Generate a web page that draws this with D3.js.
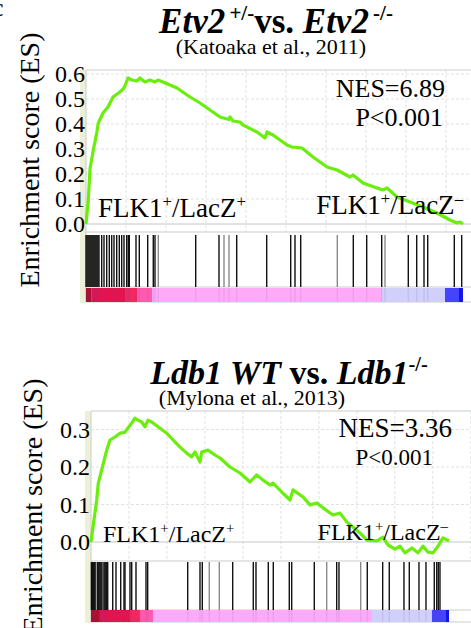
<!DOCTYPE html>
<html>
<head>
<meta charset="utf-8">
<script src="https://cdn.jsdelivr.net/npm/d3@7"></script>
<style>
  body { margin: 0; background: #fff; }
  svg { display: block; font-family: "Liberation Serif", "Times New Roman", serif; }
</style>
</head>
<body>
<div class="gsea"></div>
<script>
// ---- data (gene ranks 0..18850) ----
var geneCount = 18850;
var gridStep = 2000;

// Etv2 +/- vs Etv2 -/-
var etvRank = [0, 115, 200, 365, 535, 615, 850, 1100, 1350, 1700, 1900, 2100, 2300, 2550, 2700, 2950, 3200, 3450, 3600, 3850,
    4550, 5200, 5700, 6200, 6700, 7150, 7200, 7350, 7700, 7850, 8550, 8950, 9050, 9350, 10050, 10300, 10800, 11350, 12050,
    12550, 13200, 13350, 13850, 14550, 14850, 15050, 15550, 16200, 16850, 17550, 18200, 18550, 18700, 18850];
var etvES = [0.0, 0.096, 0.22, 0.296, 0.364, 0.404, 0.444, 0.468, 0.508, 0.528, 0.544, 0.584, 0.576, 0.572, 0.584, 0.568, 0.576, 0.568, 0.576, 0.568,
    0.544, 0.508, 0.484, 0.456, 0.428, 0.418, 0.428, 0.412, 0.408, 0.396, 0.368, 0.344, 0.368, 0.356, 0.316, 0.308, 0.304, 0.268, 0.228,
    0.216, 0.188, 0.196, 0.164, 0.144, 0.136, 0.144, 0.108, 0.088, 0.068, 0.044, 0.016, 0.004, 0.008, 0.0];
var etvHits = [0, 50, 100, 150, 200, 250, 300, 350, 400, 450, 500, 550, 600, 650,
    785, 900, 1035, 1165, 1285, 1400, 1535, 1665, 1785, 1900, 2035, 2115, 2165, 2500, 2665, 3085, 3365, 3450, 3615,
    5485, 6650, 6900, 7150, 7535, 9035, 10235, 10450, 10735, 12565, 13365, 14035, 14785, 14950, 16115, 16535, 16900,
    17085, 18415, 18785];
var etvFaintHits = [3615, 6900, 7150, 12565, 14950];
var etvBarStops = [0, 280, 1950, 2550, 3300, 14800, 17950, 18650, 18850];

// Ldb1 WT vs Ldb1 -/-
var ldbRank = [0, 158, 300, 384, 563, 827, 1000, 1264, 1527, 1790, 1948, 2143, 2317, 2475, 2669, 2843, 3000, 3196, 3986,
    4686, 5039, 5302, 5475, 5739, 5828, 6160, 6529, 6792, 7319, 7845, 8371, 8724, 9056, 9424, 9582, 10109, 10477, 10635,
    11162, 11530, 11899, 12215, 12741, 13110, 13478, 13794, 14163, 14531, 15058, 15374, 15637, 16006, 16269, 16532,
    16901, 17217, 17480, 17743, 18006, 18270, 18533, 18850];
var ldbES = [0.0, 0.059, 0.112, 0.157, 0.192, 0.245, 0.272, 0.28, 0.29, 0.293, 0.304, 0.317, 0.33, 0.325, 0.32, 0.307, 0.325, 0.32, 0.29,
    0.253, 0.237, 0.227, 0.24, 0.213, 0.24, 0.245, 0.232, 0.224, 0.2, 0.184, 0.16, 0.179, 0.165, 0.152, 0.157, 0.13, 0.112, 0.139,
    0.12, 0.099, 0.104, 0.091, 0.072, 0.077, 0.053, 0.04, 0.024, 0.005, 0.003, 0.013, -0.008, -0.019, -0.011, -0.029,
    -0.016, -0.029, -0.011, -0.027, -0.029, -0.011, 0.011, 0.003];
var ldbHits = [20, 70, 120, 170, 220, 330, 380, 430, 480, 530, 580, 680, 730, 780, 830, 880,
    1143, 1316, 1564, 1737, 1790, 2053, 2143, 2369, 2896, 2985, 5091, 5739, 5860, 6228, 6755, 7460, 8545, 8687,
    9335, 9598, 10441, 10567, 11757, 12410, 12936, 13057, 14200, 14547, 15358, 15705, 16479, 16759, 17269, 17638,
    18075, 18201, 18285, 18375];
var ldbFaintHits = [6228, 6755, 12410, 14200];
var ldbBarStops = [0, 470, 2100, 2580, 3265, 14795, 17954, 18690, 18850];

var barColors = ["#b80a22", "#e8134c", "#f3285f", "#ff5aae", "#ffaaf8", "#d0d0fa", "#4444ff", "#1414e6"];

// ---- drawing ----
var svg = d3.select(".gsea").append("svg")
        .attr("width", 471)
        .attr("height", 628);

svg.append("rect").attr("width", 471).attr("height", 628).attr("fill", "#fff");

// rich text helper: parts = [{t, it, sup}]
function richText(g, x, y, size, weight, parts) {
    var t = g.append("text")
            .attr("x", x)
            .attr("y", y)
            .attr("text-anchor", "middle")
            .attr("font-size", size)
            .attr("font-weight", weight);
    var raised = false;
    parts.forEach(function (p) {
        var s = t.append("tspan").text(p.t);
        if (p.it) s.attr("font-style", "italic");
        if (p.sup && !raised) { s.attr("dy", -size * 0.38).attr("font-size", size * 0.6); raised = true; }
        else if (p.sup) { s.attr("font-size", size * 0.6); }
        else if (raised) { s.attr("dy", size * 0.38); raised = false; }
    });
    return t;
}

function flkLabel(g, x, y, size, anchor, last) {
    var t = g.append("text")
            .attr("x", x)
            .attr("y", y)
            .attr("font-size", size)
            .attr("text-anchor", anchor);
    t.append("tspan").text("FLK1");
    t.append("tspan").text("+").attr("font-size", size * 0.62).attr("dy", -size * 0.36);
    t.append("tspan").text("/LacZ").attr("dy", size * 0.36);
    t.append("tspan").text(last).attr("font-size", size * 0.62).attr("dy", -size * 0.36);
}

function panel(o) {
    var g = svg.append("g");

    var x = d3.scaleLinear().domain([0, geneCount]).range([o.left, o.right]);
    var y = d3.scaleLinear().domain([0, o.yMax]).range([o.zeroY, o.yMaxPx]);

    // light strip on the left of the frame
    g.append("rect")
            .attr("x", o.left - 6).attr("y", o.top)
            .attr("width", 6).attr("height", o.colorBottom - o.top + 1)
            .attr("fill", "#edf0d6");

    // vertical grid
    g.selectAll(".vgrid")
            .data(d3.range(gridStep, geneCount * 1.2, gridStep))
            .enter().append("line")
            .attr("x1", function (d) { return x(d); })
            .attr("x2", function (d) { return x(d); })
            .attr("y1", o.top).attr("y2", o.esBottom)
            .attr("stroke", "#dfe2df")
            .attr("stroke-dasharray", "3,2");

    // horizontal grid
    g.selectAll(".hgrid")
            .data(o.ticks)
            .enter().append("line")
            .attr("x1", o.left).attr("x2", 480)
            .attr("y1", function (d) { return y(d); })
            .attr("y2", function (d) { return y(d); })
            .attr("stroke", function (d) { return d === 0 ? "#c3c9c3" : "#dfe2df"; })
            .attr("stroke-dasharray", function (d) { return d === 0 ? null : "3,2"; });

    // frames
    [o.top, o.esBottom, o.barcodeBottom, o.colorBottom].forEach(function (yy) {
        g.append("line")
                .attr("x1", o.left).attr("x2", 480)
                .attr("y1", yy).attr("y2", yy)
                .attr("stroke", "#c8cfc8");
    });
    g.append("line")
            .attr("x1", o.left).attr("x2", o.left)
            .attr("y1", o.top).attr("y2", o.colorBottom)
            .attr("stroke", "#c8cfc8");

    // colour bar of the ranked list
    g.selectAll(".seg")
            .data(o.colors)
            .enter().append("rect")
            .attr("x", function (d, i) { return x(o.stops[i]); })
            .attr("width", function (d, i) { return x(o.stops[i + 1]) - x(o.stops[i]); })
            .attr("y", o.colorTop)
            .attr("height", o.colorBottom - o.colorTop)
            .attr("fill", function (d) { return d; });

    // barcode
    g.selectAll(".hit")
            .data(o.hits)
            .enter().append("line")
            .attr("x1", function (d) { return x(d); })
            .attr("x2", function (d) { return x(d); })
            .attr("y1", o.barcodeTop).attr("y2", o.barcodeBottom)
            .attr("stroke", function (d) { return o.faint.indexOf(d) >= 0 ? "#8a8a8a" : "#111"; })
            .attr("stroke-width", 1.4);
    g.selectAll(".hitc")
            .data(o.hits)
            .enter().append("line")
            .attr("x1", function (d) { return x(d); })
            .attr("x2", function (d) { return x(d); })
            .attr("y1", o.colorTop).attr("y2", o.colorBottom)
            .attr("stroke", "#6040a0")
            .attr("stroke-opacity", 0.12)
            .attr("stroke-width", 1.4);

    // running enrichment score
    var line = d3.line()
            .x(function (d) { return x(d[0]); })
            .y(function (d) { return y(d[1]); });
    g.append("path")
            .datum(d3.zip(o.rank, o.es))
            .attr("d", line)
            .attr("fill", "none")
            .attr("stroke", "#6aee0c")
            .attr("stroke-width", 3.2)
            .attr("stroke-linejoin", "round");

    // y axis
    var yAxis = d3.axisLeft(y)
            .tickValues(o.ticks)
            .tickSize(0)
            .tickPadding(1)
            .tickFormat(d3.format(".1f"));
    var y_g = g.append("g")
            .attr("transform", "translate(" + o.left + ",0)")
            .call(yAxis)
            .attr("font-family", "Liberation Serif")
            .attr("font-size", o.tickSize);
    y_g.select(".domain").remove();
    y_g.selectAll("text")
            .style("font-family", "'Liberation Serif', serif")
            .style("font-size", o.tickSize + "px")
            .attr("fill", "#000");

    // axis title
    g.append("text")
            .attr("transform", "translate(" + o.labelX + "," + o.labelY + ") rotate(-90)")
            .attr("text-anchor", "middle")
            .attr("font-size", 28)
            .text("Enrichment score (ES)");

    // annotations
    g.append("text").attr("x", o.nesX).attr("y", o.nesY).attr("text-anchor", "end")
            .attr("font-size", o.nesSize).text(o.nes);
    g.append("text").attr("x", o.pX).attr("y", o.pY).attr("text-anchor", "end")
            .attr("font-size", o.pSize).text("P<0.001");
    flkLabel(g, o.left + 12, o.flkY, o.flkSize, "start", "+");
    flkLabel(g, o.flkRightX, o.flkY2, o.flkSize, "end", "\u2013");

    richText(g, o.titleX, o.titleY, o.titleSize, "bold", o.title);
    g.append("text").attr("x", o.subX).attr("y", o.subY).attr("text-anchor", "middle")
            .attr("font-size", 22).text(o.sub);
}

// panel letter, cut by the edge
svg.append("text").attr("x", -8).attr("y", 16).attr("font-size", 26).text("c");

panel({
    left: 86, right: 463, top: 70, esBottom: 232, zeroY: 224, yMax: 0.6, yMaxPx: 74,
    barcodeTop: 235, barcodeBottom: 287, colorTop: 288, colorBottom: 302,
    ticks: [0, 0.1, 0.2, 0.3, 0.4, 0.5, 0.6], tickSize: 24,
    rank: etvRank, es: etvES, hits: etvHits, faint: etvFaintHits, stops: etvBarStops, colors: barColors,
    labelX: 39, labelY: 160,
    nes: "NES=6.89", nesX: 445, nesY: 97, nesSize: 26,
    pX: 443, pY: 126, pSize: 26,
    flkY: 217, flkY2: 214, flkRightX: 463, flkSize: 27,
    titleX: 276, titleY: 33, titleSize: 35,
    title: [{t: "Etv2", it: true}, {t: "\u2009+/-", sup: true}, {t: "vs. "}, {t: "Etv2", it: true}, {t: "\u2009-/-", sup: true}],
    subX: 271, subY: 54, sub: "(Katoaka et al., 2011)"
});

panel({
    left: 91, right: 449, top: 411, esBottom: 561, zeroY: 542, yMax: 0.3, yMaxPx: 429.5,
    barcodeTop: 562, barcodeBottom: 610, colorTop: 610, colorBottom: 622,
    ticks: [0, 0.1, 0.2, 0.3], tickSize: 24,
    rank: ldbRank, es: ldbES, hits: ldbHits, faint: ldbFaintHits, stops: ldbBarStops, colors: barColors,
    labelX: 42, labelY: 506,
    nes: "NES=3.36", nesX: 452, nesY: 437, nesSize: 27,
    pX: 433, pY: 465, pSize: 23,
    flkY: 542, flkY2: 540, flkRightX: 448, flkSize: 24,
    titleX: 289, titleY: 384, titleSize: 34,
    title: [{t: "Ldb1 WT", it: true}, {t: " vs. "}, {t: "Ldb1", it: true}, {t: "-/-", sup: true}],
    subX: 252, subY: 405, sub: "(Mylona et al., 2013)"
});
</script>
</body>
</html>
